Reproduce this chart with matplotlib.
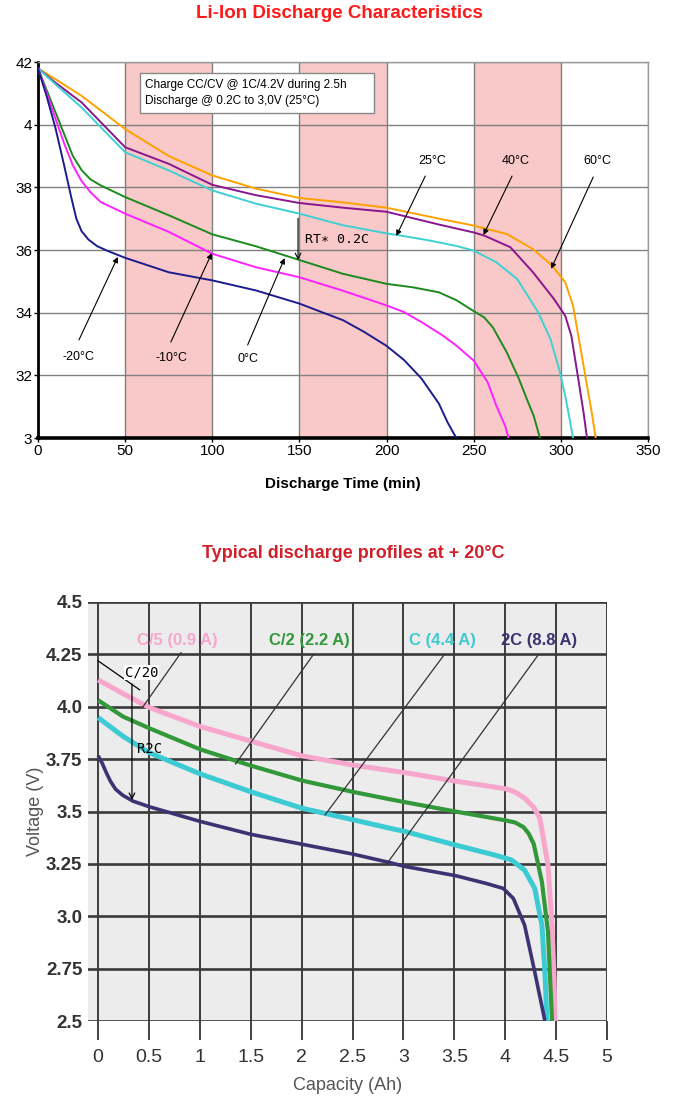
import matplotlib
matplotlib.use("Agg")
import matplotlib.pyplot as plt
from matplotlib.patches import Rectangle

NARROW = ["Liberation Sans Narrow", "Liberation Sans", "DejaVu Sans"]
DIGI = ["DejaVu Sans Mono"]

# ---- top chart: discharge at 0.2C for several temperatures (time min, voltage V)
T_M20 = [0, 5, 10, 15, 19, 22, 25, 29, 34, 40, 50, 75, 100, 125, 150, 165, 175, 187, 200, 210, 220, 230,
         235, 240]
V_M20 = [4.18, 4.09, 3.99, 3.87, 3.77, 3.70, 3.66, 3.633, 3.612, 3.597, 3.575, 3.529, 3.503, 3.471, 3.429,
         3.397, 3.376, 3.339, 3.294, 3.249, 3.19, 3.11, 3.05, 3.0]
T_M10 = [0, 5, 10, 15, 20, 25, 30, 36, 50, 75, 100, 125, 150, 175, 200, 210, 220, 232, 240, 250, 258, 263,
         268, 270]
V_M10 = [4.18, 4.10, 4.02, 3.94, 3.87, 3.82, 3.785, 3.753, 3.716, 3.658, 3.588, 3.545, 3.513, 3.47, 3.423,
         3.402, 3.37, 3.328, 3.295, 3.247, 3.178, 3.103, 3.039, 3.0]
T_0 = [0, 5, 10, 15, 20, 25, 30, 36, 50, 75, 100, 125, 150, 175, 200, 215, 230, 240, 250, 256, 261, 269,
       276, 280.5, 284.4, 288]
V_0 = [4.18, 4.11, 4.04, 3.97, 3.90, 3.855, 3.826, 3.806, 3.769, 3.711, 3.650, 3.612, 3.568, 3.524, 3.492,
       3.481, 3.465, 3.44, 3.405, 3.385, 3.353, 3.273, 3.188, 3.124, 3.071, 3.0]
T_25 = [0, 10, 25, 50, 75, 100, 125, 150, 175, 200, 206, 225, 240, 250, 263, 275, 287, 294, 299, 302.5, 305,
        307]
V_25 = [4.18, 4.129, 4.055, 3.912, 3.854, 3.790, 3.748, 3.716, 3.679, 3.653, 3.648, 3.630, 3.613, 3.598,
        3.561, 3.507, 3.401, 3.316, 3.22, 3.135, 3.061, 3.0]
T_40 = [0, 10, 25, 50, 75, 100, 125, 150, 175, 200, 231, 250, 256, 271, 284, 296, 302.5, 306, 310, 313, 315]
V_40 = [4.18, 4.134, 4.071, 3.928, 3.875, 3.808, 3.775, 3.750, 3.735, 3.722, 3.680, 3.656, 3.646, 3.609,
        3.529, 3.444, 3.39, 3.327, 3.188, 3.082, 3.0]
T_60 = [0, 10, 25, 50, 75, 100, 125, 150, 175, 200, 231, 250, 269, 284, 295, 302.5, 307, 311, 315, 317.7, 320]
V_60 = [4.18, 4.145, 4.092, 3.986, 3.90, 3.838, 3.796, 3.766, 3.752, 3.735, 3.699, 3.678, 3.651, 3.603,
        3.55, 3.497, 3.422, 3.295, 3.167, 3.082, 3.0]

TOP_XTICKS = [0, 50, 100, 150, 200, 250, 300, 350]
TOP_YTICKS = [3.0, 3.2, 3.4, 3.6, 3.8, 4.0, 4.2]
TOP_YLABELS = ["3", "32", "34", "36", "38", "4", "42"]
BANDS = [(50, 100), (150, 200), (250, 300)]

# ---- bottom chart: discharge profiles at +20C (capacity Ah, voltage V)
Q_C5 = [0, 0.244, 0.5, 1.0, 1.5, 2.0, 2.5, 2.85, 3.02, 3.51, 4.01, 4.1, 4.19, 4.28, 4.34, 4.42, 4.46, 4.48,
        4.49]
V_C5 = [4.128, 4.063, 3.997, 3.906, 3.836, 3.766, 3.722, 3.697, 3.685, 3.645, 3.608, 3.592, 3.564, 3.52,
        3.468, 3.245, 2.95, 2.7, 2.5]
Q_C2 = [0, 0.244, 0.5, 1.0, 1.5, 2.0, 2.5, 2.85, 3.02, 3.51, 4.01, 4.1, 4.18, 4.23, 4.28, 4.36, 4.42, 4.46]
V_C2 = [4.031, 3.953, 3.898, 3.797, 3.719, 3.648, 3.594, 3.560, 3.544, 3.5, 3.457, 3.447, 3.425, 3.395,
        3.345, 3.165, 2.926, 2.5]
Q_1C = [0, 0.244, 0.5, 1.0, 1.5, 2.0, 2.5, 2.85, 3.02, 3.51, 3.89, 4.06, 4.19, 4.29, 4.36, 4.39, 4.41]
V_1C = [3.948, 3.859, 3.781, 3.680, 3.594, 3.516, 3.461, 3.422, 3.404, 3.34, 3.293, 3.269, 3.22, 3.133,
        2.958, 2.734, 2.5]
Q_2C = [0, 0.04, 0.08, 0.12, 0.17, 0.24, 0.34, 0.5, 1.0, 1.5, 2.0, 2.5, 2.85, 3.02, 3.51, 3.81, 3.98, 4.08,
        4.19, 4.29, 4.39]
V_2C = [3.766, 3.73, 3.685, 3.645, 3.607, 3.578, 3.55, 3.523, 3.453, 3.391, 3.344, 3.297, 3.258, 3.237,
        3.194, 3.157, 3.133, 3.085, 2.958, 2.734, 2.5]

BOT_XTICKS = [0, 0.5, 1, 1.5, 2, 2.5, 3, 3.5, 4, 4.5, 5]
BOT_XLABELS = ["0", "0.5", "1", "1.5", "2", "2.5", "3", "3.5", "4", "4.5", "5"]
BOT_YTICKS = [2.5, 2.75, 3.0, 3.25, 3.5, 3.75, 4.0, 4.25, 4.5]
BOT_YLABELS = ["2.5", "2.75", "3.0", "3.25", "3.5", "3.75", "4.0", "4.25", "4.5"]

W, H = 674, 1104
fig = plt.figure(figsize=(W / 100, H / 100), dpi=100)


def box(l, t, r, b):
    return [l / W, 1 - b / H, (r - l) / W, (b - t) / H]


# ================= top chart =================
ax = fig.add_axes(box(38, 62, 648, 438))
for a, b in BANDS:
    ax.axvspan(a, b, color="#f9c8c8", lw=0, zorder=0)
ax.set_xlim(0, 350)
ax.set_ylim(3.0, 4.2)
ax.set_xticks(TOP_XTICKS)
ax.set_xticklabels([str(t) for t in TOP_XTICKS], family=NARROW, fontsize=11)
ax.set_yticks(TOP_YTICKS)
ax.set_yticklabels(TOP_YLABELS, family=NARROW, fontsize=11)
ax.tick_params(length=3, width=1, pad=1)
ax.grid(True, color="#808080", lw=1, zorder=1)
for s in ("top", "right"):
    ax.spines[s].set_color("#9a9a9a")
    ax.spines[s].set_linewidth(1)
ax.spines["left"].set_linewidth(2)
ax.spines["bottom"].set_linewidth(2.6)

curves_top = [
    (T_60, V_60, "#ffa200"),
    (T_40, V_40, "#8a168f"),
    (T_25, V_25, "#3ed0d2"),
    (T_0, V_0, "#1d8a1d"),
    (T_M10, V_M10, "#ff22ff"),
    (T_M20, V_M20, "#1c1c8e"),
]
for t, v, c in curves_top:
    ax.plot(t, v, color=c, lw=1.4, zorder=3)

ax.set_xlabel("Discharge Time (min)", family=NARROW, fontsize=11, fontweight="bold", labelpad=14)

# note box
ax.add_patch(Rectangle((58.5, 4.037), 134.5, 0.128, fc="white", ec="#888888", lw=1, zorder=4))
ax.text(61.5, 4.101, "Charge CC/CV @ 1C/4.2V during 2.5h\nDischarge @ 0.2C to 3,0V (25\u00b0C)",
        family=NARROW, fontsize=8.5, va="center", ha="left", linespacing=1.35, zorder=5)

arrow = dict(arrowstyle="-|>", color="black", lw=0.8, mutation_scale=8, shrinkA=0, shrinkB=0)
labels_top = [
    ("-20\u00b0C", (23.5, 3.258), (23.5, 3.313), (45.8, 3.578)),
    ("-10\u00b0C", (76.8, 3.255), (76.2, 3.306), (99.7, 3.59)),
    ("0\u00b0C", (120.3, 3.252), (120.3, 3.297), (141.5, 3.574)),
    ("25\u00b0C", (226.4, 3.884), (222.2, 3.836), (205.6, 3.645)),
    ("40\u00b0C", (273.8, 3.884), (272, 3.836), (255.6, 3.648)),
    ("60\u00b0C", (320.9, 3.884), (318.6, 3.833), (294.4, 3.54)),
]
for txt, tpos, start, end in labels_top:
    ax.text(tpos[0], tpos[1], txt, family=NARROW, fontsize=9, ha="center", va="center", zorder=5)
    ax.annotate("", xy=end, xytext=start, arrowprops=arrow, zorder=5)

ax.annotate("", xy=(149.2, 3.568), xytext=(149.2, 3.701),
            arrowprops=dict(arrowstyle="->", color="black", lw=0.8, shrinkA=0, shrinkB=0))
ax.text(153, 3.634, "RT\u2217 0.2C", family=DIGI, fontsize=9.5, va="center", ha="left", zorder=5)

fig.text(339 / W, 1 - 13 / H, "Li-Ion Discharge Characteristics", family=NARROW, fontsize=13.5,
         fontweight="bold", color="#ff1a1a", ha="center", va="center")

# ================= bottom chart =================
bx = fig.add_axes(box(88, 602, 607, 1021))
bx.set_facecolor("#ececec")
bx.set_xlim(-0.1, 5)
bx.set_ylim(2.5, 4.5)
for s in bx.spines.values():
    s.set_visible(False)
bx.set_xticks(BOT_XTICKS)
bx.set_xticklabels(BOT_XLABELS, family=NARROW, fontsize=14, color="#333333")
bx.set_yticks(BOT_YTICKS)
bx.set_yticklabels(BOT_YLABELS, family=NARROW, fontsize=13.5, fontweight="bold", color="#333333")
bx.tick_params(axis="x", length=14, width=1.2, color="#222222", pad=6)
bx.tick_params(axis="y", length=0, pad=4)
bx.grid(True, axis="x", color="#2e2e2e", lw=1.3, zorder=1)
bx.grid(True, axis="y", color="#3a3a3a", lw=1.9, zorder=1)
bx.set_axisbelow(True)

curves_bot = [
    (Q_C5, V_C5, "#f7a6cc", 3.6),
    (Q_C2, V_C2, "#33983a", 3.0),
    (Q_1C, V_1C, "#3ccbd3", 3.6),
    (Q_2C, V_2C, "#3b3372", 2.6),
]
for q, v, c, lw in curves_bot:
    bx.plot(q, v, color=c, lw=lw, zorder=3, solid_capstyle="butt")

bot_labels = [
    ("C/5 (0.9 A)", 0.78, "#f7a6cc", (0.814, 4.258), (0.44, 4.0)),
    ("C/2 (2.2 A)", 2.08, "#33983a", (2.116, 4.25), (1.35, 3.727)),
    ("C (4.4 A)", 3.38, "#3ccbd3", (3.40, 4.248), (2.23, 3.484)),
    ("2C (8.8 A)", 4.33, "#3b3372", (4.325, 4.248), (2.84, 3.253)),
]
for txt, x, c, p0, p1 in bot_labels:
    bx.text(x, 4.314, txt, family=NARROW, fontsize=12, fontweight="bold", color=c,
            ha="center", va="center", zorder=4)
    bx.plot([p0[0], p1[0]], [p0[1], p1[1]], color="#333333", lw=0.9, zorder=4)

bx.plot([0, 0.407], [4.219, 4.081], color="black", lw=0.9, zorder=5)
bx.text(0.26, 4.164, "C/20", family=DIGI, fontsize=10, va="center", ha="left", zorder=6,
        bbox=dict(boxstyle="square,pad=0.05", fc="white", ec="none"))
bx.annotate("", xy=(0.332, 3.555), xytext=(0.332, 4.109),
            arrowprops=dict(arrowstyle="->", color="black", lw=0.9, shrinkA=0, shrinkB=0), zorder=6)
bx.text(0.385, 3.797, "R2C", family=DIGI, fontsize=10, va="center", ha="left", zorder=6)

bx.set_xlabel("Capacity (Ah)", family=NARROW, fontsize=13, color="#555555", labelpad=8)
bx.set_ylabel("Voltage (V)", family=NARROW, fontsize=13, color="#555555")
bx.yaxis.set_label_coords(-0.085, 0.5)

fig.text(353 / W, 1 - 553 / H, "Typical discharge profiles at + 20\u00b0C", family=NARROW,
         fontsize=13, fontweight="bold", color="#d0202a", ha="center", va="center")

fig.savefig("out.png", dpi=100, facecolor="white")
